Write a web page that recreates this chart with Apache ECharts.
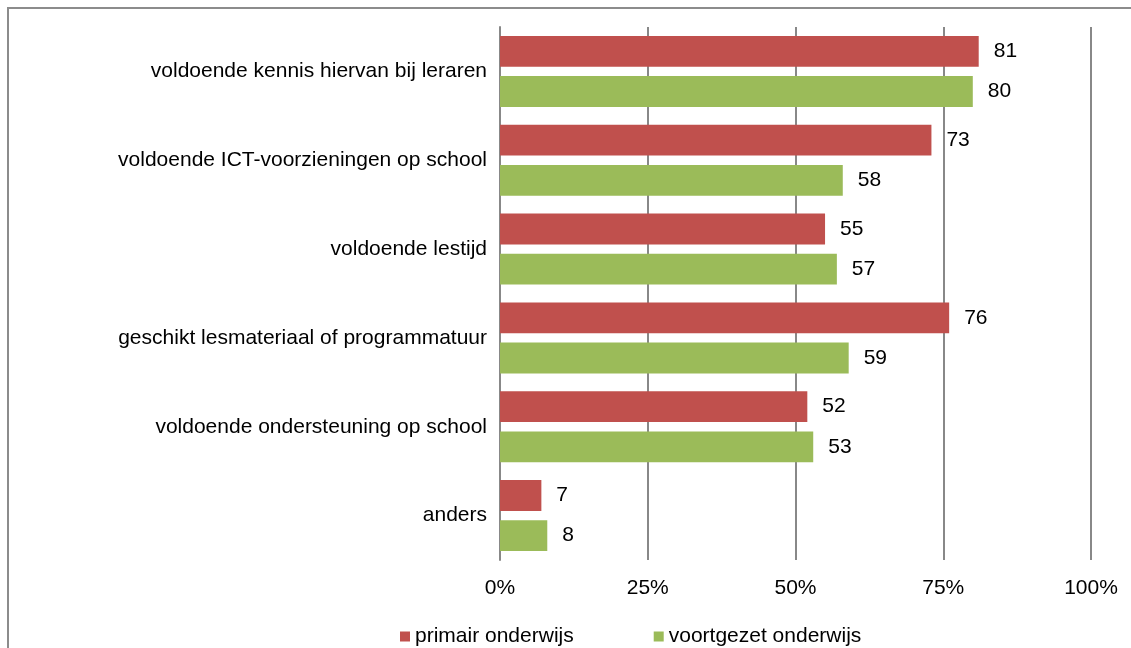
<!DOCTYPE html>
<html>
<head>
<meta charset="utf-8">
<script src="https://cdn.jsdelivr.net/npm/echarts@6/dist/echarts.min.js"></script>
<style>
  html, body { margin: 0; padding: 0; background: #fff; }
  #chart { width: 1131px; height: 648px; }
</style>
</head>
<body>
<div id="chart"></div>
<script>
// categories, top to bottom
const categories = [
  "voldoende kennis hiervan bij leraren",
  "voldoende ICT-voorzieningen op school",
  "voldoende lestijd",
  "geschikt lesmateriaal of programmatuur",
  "voldoende ondersteuning op school",
  "anders"
];
const primair = [81, 73, 55, 76, 52, 7];
const voortgezet = [80, 58, 57, 59, 53, 8];
const seriesNames = ["primair onderwijs", "voortgezet onderwijs"];
const xTicks = [0, 25, 50, 75, 100];

const font = "Liberation Sans, Arial, sans-serif";
const fs = 21;
const gridColor = "#888888";

const chart = echarts.init(document.getElementById("chart"));

const option = {
  animation: false,
  textStyle: { fontFamily: font },
  color: ["#C0504D", "#9BBB59"],
  graphic: [
    {
      type: "rect",
      shape: { x: 8, y: 8, width: 1140, height: 660 },
      style: { fill: "none", stroke: "#8c8c8c", lineWidth: 2 },
      silent: true
    }
  ],
  legend: {
    left: 395,
    top: 621,
    itemWidth: 10,
    itemHeight: 10,
    itemGap: 80,
    icon: "rect",
    textStyle: { fontSize: fs, color: "#000", fontFamily: font },
    data: seriesNames
  },
  grid: {
    left: 500,
    right: 40,
    top: 27,
    bottom: 88
  },
  xAxis: {
    type: "value",
    min: xTicks[0],
    max: xTicks[xTicks.length - 1],
    interval: 25,
    axisLine: { show: false },
    axisTick: { show: false },
    axisLabel: {
      margin: 18,
      fontSize: fs,
      color: "#000",
      formatter: "{value}%"
    },
    splitLine: { show: true, lineStyle: { color: gridColor, width: 2 } }
  },
  yAxis: {
    type: "category",
    inverse: true,
    data: categories,
    axisLine: { show: true, lineStyle: { color: gridColor, width: 2 } },
    axisTick: { show: false },
    axisLabel: { margin: 13, fontSize: fs, color: "#000" }
  },
  series: [
    {
      name: seriesNames[0],
      type: "bar",
      data: primair,
      barCategoryGap: "20%",
      barGap: "30%",
      label: { show: true, position: "right", distance: 15, fontSize: fs, color: "#000" }
    },
    {
      name: seriesNames[1],
      type: "bar",
      data: voortgezet,
      barCategoryGap: "20%",
      barGap: "30%",
      label: { show: true, position: "right", distance: 15, fontSize: fs, color: "#000" }
    }
  ]
};

chart.setOption(option);
</script>
</body>
</html>
